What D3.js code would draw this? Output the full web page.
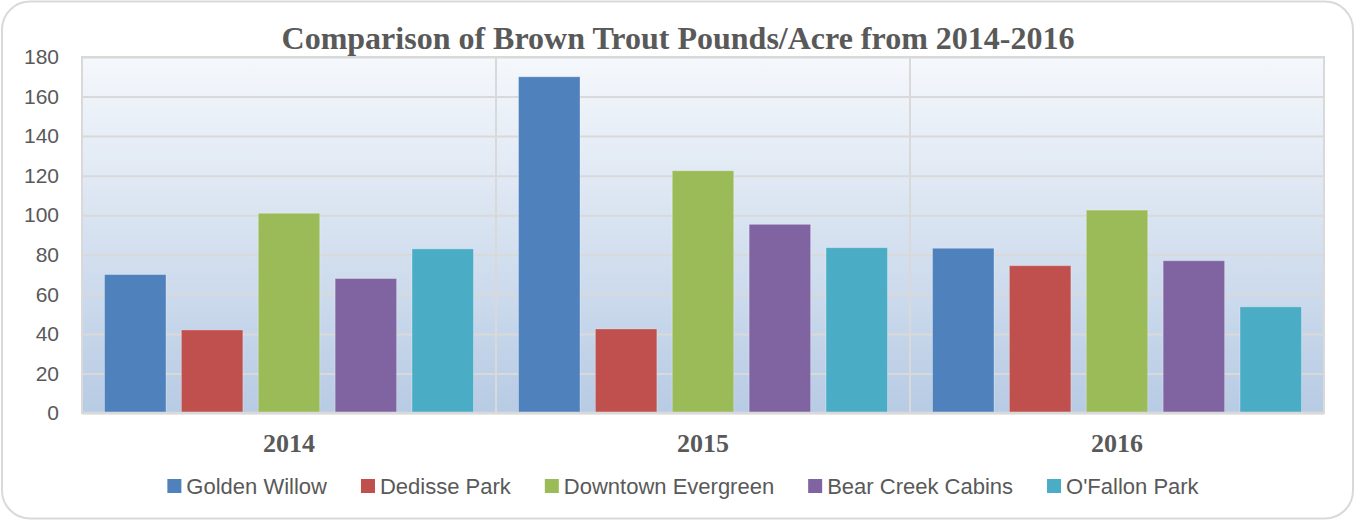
<!DOCTYPE html>
<html>
<head>
<meta charset="utf-8">
<script src="https://cdn.jsdelivr.net/npm/d3@7"></script>
<style>
  html, body { margin: 0; padding: 0; background: #fff; }
  svg { display: block; }
</style>
</head>
<body>
<svg id="chart"></svg>
<script>
// data
const years = ["2014", "2015", "2016"];
const sites = ["Golden Willow", "Dedisse Park", "Downtown Evergreen", "Bear Creek Cabins", "O'Fallon Park"];
const goldenWillow = [70, 170, 83.3];
const dedissePark = [42, 42.5, 74.5];
const downtownEvergreen = [101, 122.5, 102.6];
const bearCreekCabins = [68, 95.4, 77];
const ofallonPark = [83, 83.6, 53.7];
const siteColors = ["#4f81bd", "#c0504d", "#9bbb59", "#8064a2", "#4bacc6"];
const yTicks = [0, 20, 40, 60, 80, 100, 120, 140, 160, 180];
const chartTitle = "Comparison of Brown Trout Pounds/Acre from 2014-2016";

const seriesValues = [goldenWillow, dedissePark, downtownEvergreen, bearCreekCabins, ofallonPark];

// dimensions
const totalWidth = 1357;
const totalHeight = 522;
const plot = { left: 82, right: 1324, top: 57, bottom: 413 };
const textColor = "#595959";
const gridColor = "#d9d9d9";

const svg = d3.select("#chart")
  .attr("width", totalWidth)
  .attr("height", totalHeight);

// outer rounded frame
svg.append("rect")
  .attr("x", 2).attr("y", 1.5)
  .attr("width", 1351).attr("height", 517)
  .attr("rx", 28).attr("ry", 28)
  .attr("fill", "#fff")
  .attr("stroke", gridColor)
  .attr("stroke-width", 2);

// scales
const x0 = d3.scaleBand()
  .domain(years)
  .range([plot.left, plot.right])
  .padding(0);

const groupPad = 22.5;
const x1 = d3.scaleBand()
  .domain(sites)
  .range([groupPad, x0.bandwidth() - groupPad])
  .paddingInner(0.2)
  .paddingOuter(0);

const yScale = d3.scaleLinear()
  .domain([0, 180])
  .range([plot.bottom, plot.top]);

// gradient background
const grad = svg.append("defs").append("linearGradient")
  .attr("id", "plotGradient")
  .attr("x1", "0%").attr("y1", "0%")
  .attr("x2", "0%").attr("y2", "100%");
grad.append("stop").attr("offset", "0%").attr("stop-color", "#f5f8fc");
grad.append("stop").attr("offset", "100%").attr("stop-color", "#b7cbe4");

svg.append("rect")
  .attr("x", plot.left).attr("y", plot.top)
  .attr("width", plot.right - plot.left)
  .attr("height", plot.bottom - plot.top)
  .attr("fill", "url(#plotGradient)")
  .attr("stroke", gridColor)
  .attr("stroke-width", 2);

// horizontal grid lines
svg.append("g")
  .attr("class", "y-grid")
  .attr("transform", "translate(" + plot.left + ",0)")
  .call(d3.axisLeft(yScale).tickValues(yTicks).tickSize(-(plot.right - plot.left)).tickFormat(""))
  .call((g) => g.select(".domain").remove())
  .call((g) => g.selectAll("line").attr("stroke", gridColor).attr("stroke-width", 2));

// vertical separators between year groups
svg.append("g")
  .attr("class", "x-grid")
  .selectAll("line")
  .data(years.slice(1))
  .enter()
  .append("line")
  .attr("x1", (d) => x0(d))
  .attr("x2", (d) => x0(d))
  .attr("y1", plot.top)
  .attr("y2", plot.bottom)
  .attr("stroke", gridColor)
  .attr("stroke-width", 2);

// bars
const groups = svg.append("g")
  .attr("class", "bars")
  .selectAll("g")
  .data(years)
  .enter()
  .append("g")
  .attr("transform", (d) => "translate(" + x0(d) + ",0)");

groups.selectAll("rect")
  .data((year, yi) => sites.map((site, si) => ({ site, si, value: seriesValues[si][yi] })))
  .enter()
  .append("rect")
  .attr("x", (d) => x1(d.site))
  .attr("width", x1.bandwidth())
  .attr("y", (d) => yScale(d.value))
  .attr("height", (d) => plot.bottom - yScale(d.value))
  .attr("fill", (d) => siteColors[d.si])
  .attr("stroke", "rgba(255,255,255,0.3)")
  .attr("stroke-width", 1);

// bottom axis line
svg.append("line")
  .attr("x1", plot.left).attr("x2", plot.right)
  .attr("y1", plot.bottom).attr("y2", plot.bottom)
  .attr("stroke", gridColor)
  .attr("stroke-width", 2.5);

// y axis labels
svg.append("g")
  .attr("class", "y-axis")
  .attr("transform", "translate(" + (plot.left - 23) + ",0)")
  .call(d3.axisLeft(yScale).tickValues(yTicks).tickSize(0).tickPadding(0))
  .call((g) => g.select(".domain").remove())
  .call((g) => g.selectAll("text")
    .attr("fill", textColor)
    .attr("font-family", "'Liberation Sans', Arial, sans-serif")
    .attr("font-size", 21));

// x axis labels
svg.append("g")
  .attr("class", "x-axis")
  .selectAll("text")
  .data(years)
  .enter()
  .append("text")
  .attr("x", (d) => x0(d) + x0.bandwidth() / 2)
  .attr("y", 452)
  .attr("text-anchor", "middle")
  .attr("fill", textColor)
  .attr("font-family", "'Liberation Serif', 'Times New Roman', serif")
  .attr("font-weight", "bold")
  .attr("font-size", 26)
  .text((d) => d);

// title
svg.append("text")
  .attr("x", (plot.left + plot.right) / 2 - 25)
  .attr("y", 49)
  .attr("text-anchor", "middle")
  .attr("fill", textColor)
  .attr("font-family", "'Liberation Serif', 'Times New Roman', serif")
  .attr("font-weight", "bold")
  .attr("font-size", 32)
  .text(chartTitle);

// legend
const legend = svg.append("g").attr("class", "legend");
const items = legend.selectAll("g")
  .data(sites)
  .enter()
  .append("g");
items.append("rect")
  .attr("width", 14).attr("height", 14)
  .attr("y", 479)
  .attr("fill", (d, i) => siteColors[i]);
items.append("text")
  .attr("x", 19)
  .attr("y", 494)
  .attr("fill", textColor)
  .attr("font-family", "'Liberation Sans', Arial, sans-serif")
  .attr("font-size", 22)
  .text((d) => d);

const itemGap = 34;
let cursor = 0;
const offsets = [];
items.each(function () {
  const w = this.querySelector("text").getComputedTextLength() + 19;
  offsets.push(cursor);
  cursor += w + itemGap;
});
const legendWidth = cursor - itemGap;
const legendStart = 683 - legendWidth / 2;
items.attr("transform", (d, i) => "translate(" + (legendStart + offsets[i]) + ",0)");
</script>
</body>
</html>
